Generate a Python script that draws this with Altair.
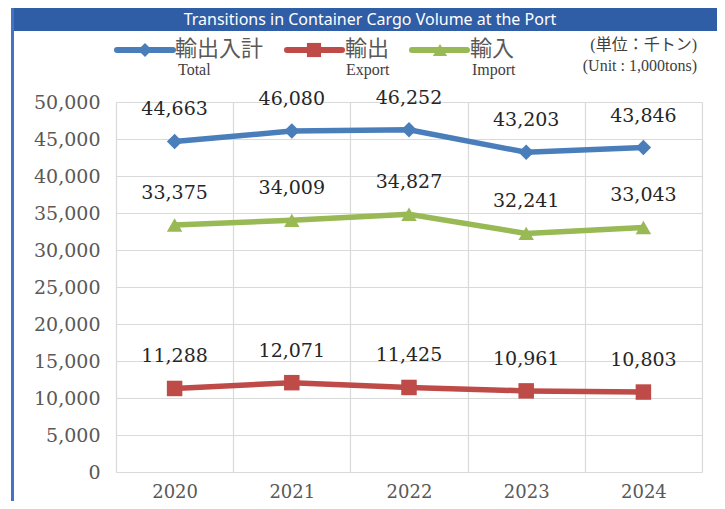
import altair as alt
import pandas as pd

years = ["2020", "2021", "2022", "2023", "2024"]
total = [44663, 46080, 46252, 43203, 43846]
export = [11288, 12071, 11425, 10961, 10803]
imports = [33375, 34009, 34827, 32241, 33043]

series_keys = ["total", "export", "import"]
series_jp = ["輸出入計", "輸出", "輸入"]
series_en = ["Total", "Export", "Import"]
colors = ["#4A7EBB", "#BE4B48", "#98B954"]
shapes = ["diamond", "square", "triangle-up"]
marker_sizes = [240, 240, 330]
y_ticks = list(range(0, 50001, 5000))

title_text = "Transitions in Container Cargo Volume at the Port"
unit_jp = "(単位：千トン)"
unit_en = "(Unit : 1,000tons)"

rows = []
for key, vals in zip(series_keys, [total, export, imports]):
    for yr, v in zip(years, vals):
        rows.append({"year": yr, "series": key, "value": v})
df = pd.DataFrame(rows)

SERIF = "DejaVu Serif"
GRAY = "#595959"

x_enc = alt.X(
    "year:O",
    bandPosition=0.5,
    scale=alt.Scale(type="band", paddingInner=0, paddingOuter=0),
    axis=alt.Axis(
        title=None, tickBand="extent", grid=True, ticks=False, domain=False,
        labelAngle=0, labelFont=SERIF, labelFontSize=18, labelColor=GRAY,
        labelPadding=11, gridColor="#D9D9D9", gridWidth=1.2,
    ),
)
y_enc = alt.Y(
    "value:Q",
    scale=alt.Scale(domain=[0, 50000]),
    axis=alt.Axis(
        values=y_ticks, format=",.0f", title=None, ticks=False, domain=False,
        labelPadding=16, labelFont=SERIF, labelFontSize=19, labelColor=GRAY,
        gridColor="#D9D9D9", gridWidth=1.2,
    ),
)
color_enc = alt.Color("series:N", scale=alt.Scale(domain=series_keys, range=colors), legend=None)
shape_enc = alt.Shape("series:N", scale=alt.Scale(domain=series_keys, range=shapes), legend=None)
size_enc = alt.Size("series:N", scale=alt.Scale(domain=series_keys, range=marker_sizes), legend=None)

base = alt.Chart(df)
lines = base.mark_line(strokeWidth=5.5).encode(x=x_enc, y=y_enc, color=color_enc, detail="series:N")
points = base.mark_point(filled=True, opacity=1).encode(
    x=x_enc, y=y_enc, color=color_enc, shape=shape_enc, size=size_enc
)
labels = base.mark_text(dy=-32, font=SERIF, fontSize=19, color="#262626").encode(
    x=x_enc, y=y_enc, text=alt.Text("value:Q", format=",")
)


def one(text=""):
    return alt.Chart(pd.DataFrame({"t": [text]}))


deco = []
# title bar and left border
deco.append(one().mark_rect(color="#2F5EA6").encode(
    x=alt.value(-105), x2=alt.value(601), y=alt.value(-94), y2=alt.value(-71)))
deco.append(one().mark_rect(color="#4472C4").encode(
    x=alt.value(-105), x2=alt.value(-102), y=alt.value(-94), y2=alt.value(399)))
deco.append(one(title_text).mark_text(
    font="Noto Sans", fontSize=16, color="white", align="center", baseline="middle"
).encode(x=alt.value(254), y=alt.value(-82), text="t:N"))

# legend
leg_line = [(1, 57, 29), (171, 226, 198), (296, 351, 324)]
leg_text_x = [59, 229, 354]
leg_en_x = [62, 230, 356]
for i in range(3):
    x1, x2, mx = leg_line[i]
    deco.append(one().mark_rule(color=colors[i], strokeWidth=6, strokeCap="round").encode(
        x=alt.value(x1), x2=alt.value(x2), y=alt.value(-52)))
    deco.append(one().mark_point(shape=shapes[i], filled=True, size=200, opacity=1, color=colors[i]).encode(
        x=alt.value(mx), y=alt.value(-52)))
    deco.append(one(series_jp[i]).mark_text(
        font="Noto Sans CJK JP", fontSize=22, color=GRAY, align="left", baseline="middle"
    ).encode(x=alt.value(leg_text_x[i]), y=alt.value(-53), text="t:N"))
    deco.append(one(series_en[i]).mark_text(
        font="Liberation Serif", fontSize=16, color="#404040", align="left", baseline="middle"
    ).encode(x=alt.value(leg_en_x[i]), y=alt.value(-32), text="t:N"))

# unit
deco.append(one(unit_jp).mark_text(
    font="Liberation Serif, Noto Sans CJK JP", fontSize=16, color="#404040", align="right", baseline="middle"
).encode(x=alt.value(581), y=alt.value(-57), text="t:N"))
deco.append(one(unit_en).mark_text(
    font="Liberation Serif", fontSize=16, color="#404040", align="right", baseline="middle"
).encode(x=alt.value(581), y=alt.value(-36), text="t:N"))

chart = alt.layer(lines, points, labels, *deco).properties(
    width=586, height=370,
    padding={"left": 108, "top": 94, "right": 15, "bottom": 29},
    autosize="none",
    background="white",
).configure_view(stroke=None)

chart.save("out.html", embed_options={"renderer": "svg", "actions": False})
